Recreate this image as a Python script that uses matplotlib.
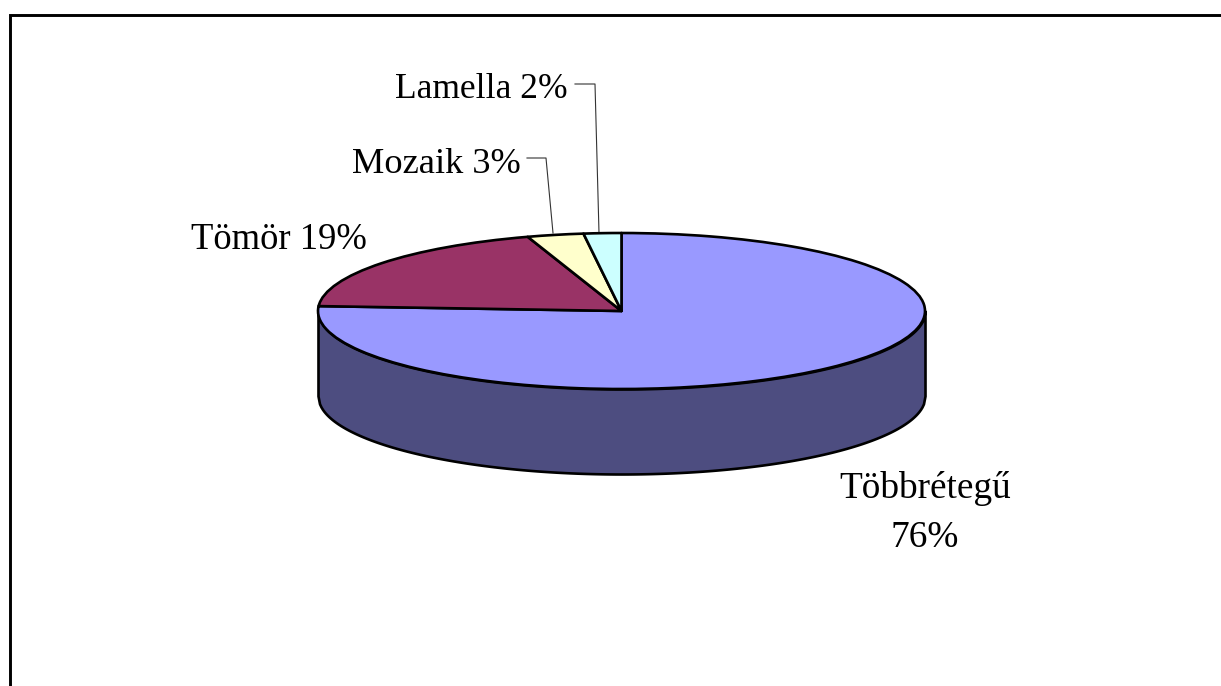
import numpy as np
import matplotlib
matplotlib.use("Agg")
import matplotlib.pyplot as plt

categories = ["Többrétegű", "Tömör", "Mozaik", "Lamella"]
shares = [76, 19, 3, 2]
colors = ["#9999FF", "#993366", "#FFFFCC", "#CCFFFF"]
wall_color = "#4D4D80"

W, H = 1221, 686
CX, CY, RX, RY = 621.5, 311.0, 303.5, 78.0
DEPTH = 85.0
EDGE = 1.9

plt.rcParams["font.family"] = ["Liberation Serif", "DejaVu Serif"]

fig = plt.figure(figsize=(W / 100, H / 100), dpi=100, facecolor="white")
ax = fig.add_axes([0, 0, 1, 1])


def px(x, y):
    """Pixel position in the picture -> pie data coordinates."""
    return (x - CX) / RX, (CY - y) / RY


# side wall of the cylinder, below the top face
xs = np.linspace(-1, 1, 400)
top = -np.sqrt(1 - xs ** 2)
ax.fill_between(xs, top, top - DEPTH / RY, facecolor=wall_color,
                edgecolor="black", linewidth=EDGE, zorder=1)

wedges, _ = ax.pie(shares, colors=colors, startangle=90, counterclock=False,
                   radius=1, frame=True,
                   wedgeprops=dict(edgecolor="black", linewidth=EDGE, joinstyle="round"))
for w in wedges:
    w.set_zorder(2)

ax.set_aspect("auto")
ax.set_xlim(px(0, 0)[0], px(W, 0)[0])
ax.set_ylim(px(0, H)[1], px(0, 0)[1])
ax.set_xticks([])
ax.set_yticks([])
for s in ax.spines.values():
    s.set_visible(False)

# leader lines
for pts in ([(575, 84), (595, 84), (599, 233)], [(527, 158), (546, 158), (553, 233)]):
    d = np.array([px(*p) for p in pts])
    ax.plot(d[:, 0], d[:, 1], color="#333333", lw=0.8, zorder=1.5)

# labels
label = {c: f"{c} {v}%" for c, v in zip(categories, shares)}
ax.text(*px(568, 98), label["Lamella"], ha="right", va="baseline", fontsize=25.6)
ax.text(*px(521, 173), label["Mozaik"], ha="right", va="baseline", fontsize=26.2)
ax.text(*px(367, 249), label["Tömör"], ha="right", va="baseline", fontsize=26.4)
ax.text(*px(925, 498), categories[0], ha="center", va="baseline", fontsize=26.8)
ax.text(*px(925, 547), f"{shares[0]}%", ha="center", va="baseline", fontsize=26.8)

# frame: only the top and left edges fall inside the picture
bx = np.array([px(9.5, H + 5), px(9.5, 14.5), px(W + 5, 14.5)])
ax.plot(bx[:, 0], bx[:, 1], color="black", lw=2.1, solid_joinstyle="miter", zorder=3)

fig.savefig("out.png", dpi=100, facecolor="white")
